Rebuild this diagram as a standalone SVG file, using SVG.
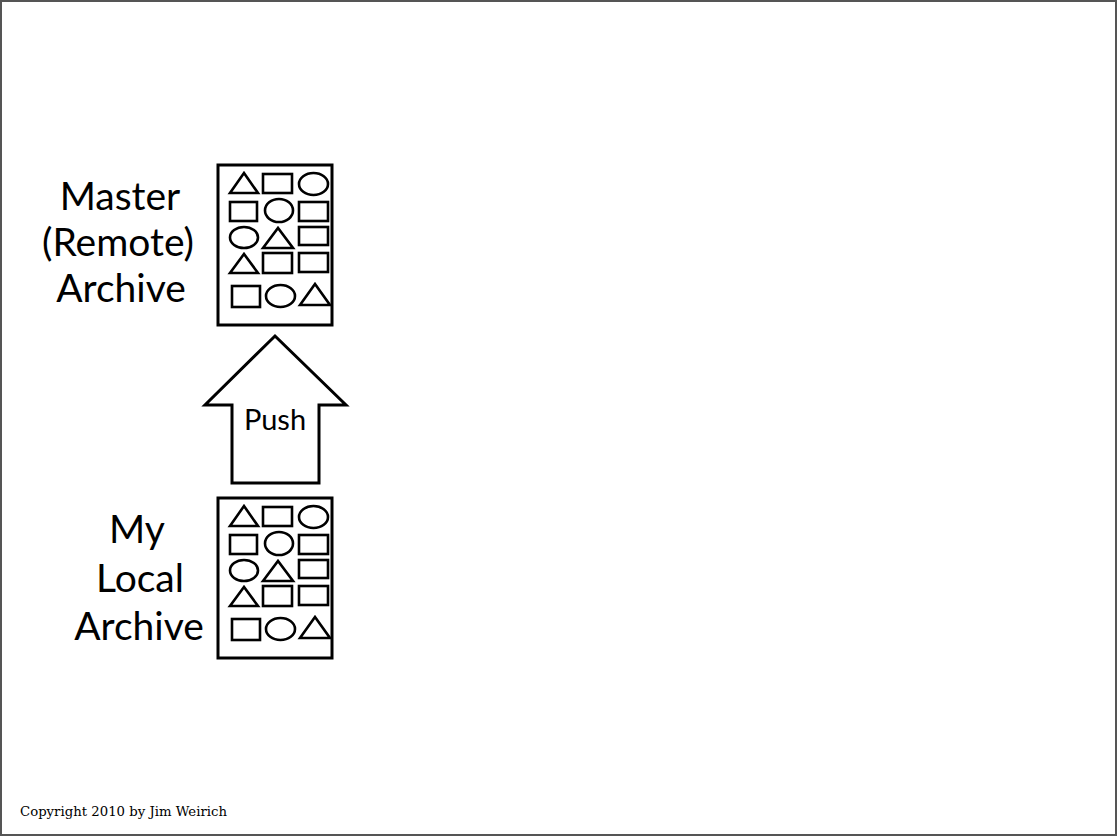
<svg xmlns="http://www.w3.org/2000/svg" xmlns:xlink="http://www.w3.org/1999/xlink" width="1117" height="836" viewBox="0 0 1117 836">
  <style>
    .frame { fill: #ffffff; stroke: #555555; stroke-width: 2; }
    .box { fill: #ffffff; stroke: #000000; stroke-width: 3; }
    .shape { fill: none; stroke: #000000; stroke-width: 2.6; stroke-linejoin: miter; }
    .label { font-family: "Lato", "Open Sans", "Liberation Sans", sans-serif; font-size: 39px; fill: #000000; text-anchor: middle; }
    .push { font-family: "Lato", "Open Sans", "Liberation Sans", sans-serif; font-size: 29px; fill: #000000; text-anchor: middle; }
    .arrow { fill: #ffffff; stroke: #000000; stroke-width: 3; stroke-linejoin: miter; }
    .copy { font-family: "DejaVu Serif", "Liberation Serif", serif; font-size: 12.5px; fill: #000000; }
  </style>
  <defs>
    <g id="archive-icon">
      <rect class="box" x="0" y="0" width="114" height="160"/>
      <polygon class="shape" points="12,28 26,8 40,28"/>
      <rect class="shape" x="45" y="9" width="29" height="19"/>
      <ellipse class="shape" cx="95.5" cy="19" rx="14.5" ry="11"/>
      <rect class="shape" x="12" y="37" width="27" height="19"/>
      <ellipse class="shape" cx="61" cy="45.5" rx="14" ry="11.5"/>
      <rect class="shape" x="81" y="37" width="29" height="19"/>
      <ellipse class="shape" cx="26" cy="72.5" rx="14" ry="10.5"/>
      <polygon class="shape" points="45,83 60,63 75,83"/>
      <rect class="shape" x="81" y="62" width="29" height="18"/>
      <polygon class="shape" points="12,108 26,89 40,108"/>
      <rect class="shape" x="45" y="88" width="29" height="20"/>
      <rect class="shape" x="81" y="88" width="29" height="19"/>
      <rect class="shape" x="14" y="121" width="28" height="21"/>
      <ellipse class="shape" cx="62.5" cy="131" rx="14.5" ry="11"/>
      <polygon class="shape" points="82,140 97,119 112,140"/>
    </g>
  </defs>
  <rect class="frame" x="1" y="1" width="1115" height="834"/>
  <g id="master-archive">
    <use xlink:href="#archive-icon" href="#archive-icon" x="218" y="165"/>
    <text class="label" x="120" y="210">Master</text>
    <text class="label" x="118" y="256">(Remote)</text>
    <text class="label" x="121" y="302">Archive</text>
  </g>
  <g id="local-archive">
    <use xlink:href="#archive-icon" href="#archive-icon" x="218" y="498"/>
    <text class="label" x="137" y="543">My</text>
    <text class="label" x="140" y="592">Local</text>
    <text class="label" x="139" y="640">Archive</text>
  </g>
  <g id="connectors">
    <polygon class="arrow" points="275,336 346,405 319,405 319,483 232,483 232,405 205,405"/>
    <text class="push" x="275" y="430">Push</text>
  </g>
  <text class="copy" x="20" y="816" textLength="207" lengthAdjust="spacingAndGlyphs">Copyright 2010 by Jim Weirich</text>
</svg>
